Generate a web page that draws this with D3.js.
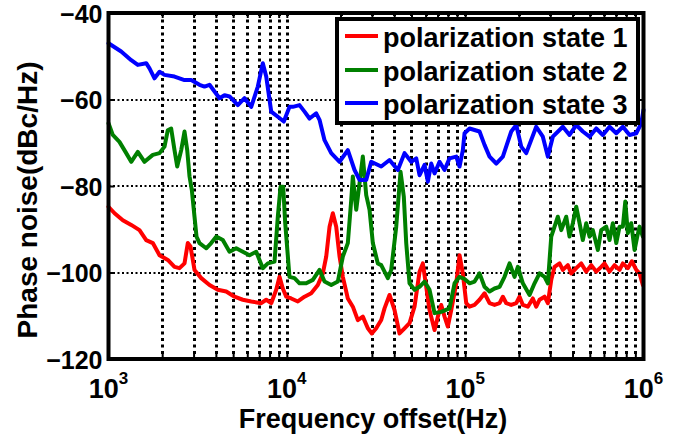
<!DOCTYPE html>
<html><head><meta charset="utf-8">
<script src="https://cdn.jsdelivr.net/npm/d3@7"></script>
<style>
body{margin:0;background:#fff}
text{font-family:"Liberation Sans",Arial,Helvetica,sans-serif;font-weight:bold;fill:#000}
</style>
</head><body>
<svg id="chart" width="692" height="434"></svg>
<script>
// ---- data ----
const seriesNames = ["polarization state 1", "polarization state 2", "polarization state 3"];
const seriesColors = ["#ff0000", "#008000", "#0000ff"];
const xTickValues = [1e3, 1e4, 1e5, 1e6];
const xTickExponents = ["3", "4", "5", "6"];
const yTickValues = [-120, -100, -80, -60, -40];
const xLabel = "Frequency offset(Hz)";
const yLabel = "Phase noise(dBc/Hz)";

const state1 = [[1000,-84.8],[1081,-86.3],[1203,-87.9],[1341,-89.0],[1492,-90.2],[1627,-92.5],[1772,-93.2],[1932,-96.0],[2151,-97.1],[2345,-98.7],[2501,-99.0],[2668,-97.9],[2784,-93.2],[2884,-94.0],[3036,-99.4],[3311,-101.3],[3685,-102.9],[4102,-104.0],[4573,-104.4],[5090,-105.6],[5665,-106.3],[6315,-106.7],[7183,-107.1],[7663,-106.3],[8175,-107.1],[8720,-104.0],[9100,-101.0],[9495,-103.7],[9922,-105.6],[10580,-106.0],[11530,-106.7],[12570,-105.6],[13700,-104.8],[14920,-102.9],[15920,-100.2],[16630,-96.3],[17360,-89.4],[18110,-86.3],[18920,-89.4],[19750,-96.3],[20610,-101.0],[21980,-106.0],[23450,-107.9],[25010,-111.0],[26680,-110.2],[28460,-112.9],[29970,-114.1],[31720,-112.9],[33830,-111.0],[35300,-108.3],[37650,-105.2],[40180,-108.7],[42850,-114.1],[45710,-112.9],[48750,-111.7],[52000,-107.9],[55490,-99.8],[57900,-97.9],[60480,-103.3],[63130,-108.7],[67350,-113.3],[70280,-110.2],[73420,-107.5],[76630,-110.2],[79950,-112.5],[83550,-108.7],[89130,-102.5],[93000,-96.0],[97030,-100.2],[101400,-107.1],[105800,-107.9],[112900,-107.5],[120400,-106.3],[128400,-104.8],[137000,-107.1],[146100,-107.5],[155900,-107.1],[162700,-105.6],[170000,-107.1],[181300,-107.5],[193400,-107.1],[201800,-105.6],[210600,-107.5],[224600,-107.9],[239600,-106.0],[250300,-107.9],[261200,-106.3],[278700,-105.6],[290800,-107.1],[303900,-101.7],[317100,-98.7],[338200,-97.9],[352900,-99.4],[376600,-98.3],[393400,-100.2],[419600,-99.0],[447600,-97.9],[477400,-99.8],[509300,-98.3],[543300,-99.8],[579400,-98.7],[604700,-97.9],[645100,-99.8],[688100,-98.3],[734100,-99.4],[766100,-97.9],[817100,-99.0],[860600,-97.4],[910900,-99.4],[950100,-100.2],[991600,-102.9]];

const state2 = [[1000,-65.5],[1057,-68.2],[1152,-69.8],[1257,-72.4],[1341,-74.4],[1460,-72.1],[1592,-74.4],[1772,-72.8],[1932,-72.4],[2061,-70.9],[2151,-67.1],[2246,-66.7],[2345,-71.7],[2428,-75.5],[2557,-71.7],[2668,-67.4],[2763,-71.7],[2847,-77.8],[2932,-80.9],[3036,-87.1],[3116,-91.7],[3238,-93.2],[3531,-94.4],[3766,-93.2],[4018,-91.7],[4375,-92.5],[4771,-95.2],[5202,-94.4],[5665,-95.2],[6176,-96.0],[6735,-95.2],[7333,-99.0],[7825,-97.9],[8530,-97.5],[8902,-87.1],[9218,-80.2],[9544,-80.2],[9793,-88.6],[10350,-101.0],[11040,-101.3],[11780,-102.5],[12840,-102.5],[13990,-101.7],[15250,-99.4],[16270,-102.1],[17740,-102.9],[19320,-102.1],[20610,-96.3],[21980,-93.2],[22970,-83.2],[23450,-77.8],[24500,-85.5],[25560,-79.4],[26680,-73.2],[27870,-82.1],[29090,-85.5],[30360,-93.2],[32380,-97.9],[33830,-98.3],[36840,-101.3],[38490,-99.4],[41060,-89.4],[43410,-76.7],[45290,-82.5],[46720,-93.2],[48750,-102.5],[52000,-104.0],[55490,-103.3],[59190,-102.1],[63130,-104.0],[67350,-109.4],[73420,-109.1],[81730,-108.3],[87180,-102.5],[93000,-101.0],[99200,-101.5],[105800,-102.5],[112900,-102.1],[120400,-100.2],[128400,-103.3],[137000,-104.4],[146100,-103.7],[155900,-103.3],[166200,-101.0],[177400,-97.9],[189200,-101.0],[197400,-98.7],[210600,-102.5],[229600,-105.2],[244900,-102.5],[261200,-100.2],[278700,-101.0],[290800,-102.5],[303900,-91.7],[317100,-89.4],[330900,-87.1],[345800,-90.2],[368800,-87.1],[384800,-91.7],[401600,-88.6],[419600,-84.8],[437900,-88.6],[456900,-92.5],[477400,-88.6],[498200,-91.7],[519900,-90.2],[554600,-94.8],[579400,-90.2],[618100,-89.4],[645100,-92.5],[673200,-88.6],[703600,-93.2],[734100,-89.4],[766100,-89.4],[790300,-83.6],[817100,-90.9],[853800,-88.6],[891000,-94.8],[922300,-91.7],[950100,-89.4],[991600,-91.7]];

const state3 = [[1000,-47.0],[1178,-48.9],[1341,-50.9],[1460,-52.0],[1627,-51.6],[1698,-52.8],[1811,-55.1],[1932,-53.6],[2061,-54.3],[2345,-54.7],[2668,-55.5],[2909,-55.5],[3238,-56.6],[3454,-57.0],[3685,-56.6],[4194,-59.7],[4473,-59.0],[4771,-59.3],[5311,-61.3],[5789,-59.7],[6315,-61.7],[6877,-57.0],[7333,-51.6],[7663,-54.7],[8175,-62.8],[8902,-64.0],[9618,-65.1],[10350,-61.7],[10800,-61.7],[11780,-61.3],[12570,-62.8],[13400,-64.4],[14610,-63.2],[15250,-64.7],[16270,-69.4],[17740,-72.4],[19750,-74.4],[21980,-71.7],[23970,-76.3],[25560,-78.6],[27870,-78.6],[29730,-74.4],[33830,-75.5],[37650,-74.0],[41920,-76.3],[45710,-72.4],[49830,-74.4],[53170,-73.6],[55490,-77.5],[59190,-75.1],[61770,-79.0],[64540,-74.8],[67350,-77.1],[71820,-74.4],[76630,-76.3],[81730,-73.6],[89130,-73.2],[93000,-75.5],[97030,-71.7],[99200,-67.8],[105800,-66.7],[120400,-67.4],[128400,-70.5],[137000,-73.2],[149400,-74.8],[162700,-73.2],[181300,-67.4],[193400,-65.9],[206300,-70.9],[220000,-72.4],[250300,-66.3],[272600,-68.6],[290800,-73.2],[310200,-68.6],[352900,-66.3],[384800,-68.2],[419600,-65.9],[456900,-67.4],[498200,-68.6],[543300,-66.7],[591600,-68.2],[645100,-66.3],[703600,-67.8],[766100,-66.3],[835300,-68.2],[910900,-67.8],[971400,-65.5],[1000000,-62.4]];

const seriesData = [state1, state2, state3];

// ---- layout ----
const svg = d3.select("#chart");
const L = 108.5, R = 643.5, T = 13, B = 359;
const x = d3.scaleLog().domain([1e3, 1e6]).range([L, R]);
const y = d3.scaleLinear().domain([-120, -40]).range([B, T]);

// all log ticks (majors + minors)
const logTicks = [];
for (let d = 1e3; d < 1e6; d *= 10) for (let k = 1; k < 10; k++) logTicks.push(d * k);
logTicks.push(1e6);

// grid: dotted
const grid = svg.append("g");
grid.selectAll("line.v").data(logTicks.filter(t => t > 1e3 && t < 1e6)).join("line")
  .attr("x1", d => Math.round(x(d)) + 0.5).attr("x2", d => Math.round(x(d)) + 0.5).attr("y1", T).attr("y2", B)
  .attr("stroke", "#000").attr("stroke-width", 3).attr("stroke-dasharray", "3,3.5");
grid.selectAll("line.h").data(yTickValues.filter(t => t > -120 && t < -40)).join("line")
  .attr("x1", L).attr("x2", R).attr("y1", d => Math.round(y(d))).attr("y2", d => Math.round(y(d)))
  .attr("stroke", "#000").attr("stroke-width", 2).attr("stroke-dasharray", "2,2.5");

// lines
const line = d3.line().x(d => x(d[0])).y(d => y(d[1]));
svg.append("g").selectAll("path").data(seriesData).join("path")
  .attr("d", d => line(d)).attr("fill", "none")
  .attr("stroke", (d, i) => seriesColors[i]).attr("stroke-width", 4)
  .attr("stroke-linejoin", "round").attr("stroke-linecap", "round");

// axes (inward ticks)
const yAxis = d3.axisLeft(y).tickValues(yTickValues).tickSizeInner(-6).tickSizeOuter(0).tickPadding(6).tickFormat(d3.format("d"));
const gy = svg.append("g").attr("transform", `translate(${L},0)`).call(yAxis);
gy.select(".domain").remove();
gy.selectAll(".tick line").attr("stroke-width", 2);
gy.selectAll(".tick text").style("font-size", "25px").attr("dy", "0.36em");
const gyR = svg.append("g").attr("transform", `translate(${R},0)`)
  .call(d3.axisRight(y).tickValues(yTickValues).tickSizeInner(-6).tickSizeOuter(0).tickFormat(""));
gyR.select(".domain").remove();
gyR.selectAll(".tick line").attr("stroke-width", 2);

const gx = svg.append("g").attr("transform", `translate(0,${B})`)
  .call(d3.axisBottom(x).tickValues(logTicks).tickSizeInner(-5).tickSizeOuter(0).tickFormat(""));
gx.select(".domain").remove();
gx.selectAll(".tick line").attr("stroke-width", 2);
const gxT = svg.append("g").attr("transform", `translate(0,${T})`)
  .call(d3.axisTop(x).tickValues(logTicks).tickSizeInner(-5).tickSizeOuter(0).tickFormat(""));
gxT.select(".domain").remove();
gxT.selectAll(".tick line").attr("stroke-width", 2);

// x tick labels 10^n
const xl = svg.append("g");
xTickValues.forEach((v, i) => {
  const t = xl.append("text").attr("x", x(v)).attr("y", 398).attr("text-anchor", "middle").style("font-size", "27px");
  t.append("tspan").text("10");
  t.append("tspan").attr("dy", -14).style("font-size", "17px").text(xTickExponents[i]);
});

// box
svg.append("rect").attr("x", L).attr("y", T).attr("width", R - L).attr("height", B - T)
  .attr("fill", "none").attr("stroke", "#000").attr("stroke-width", 4);

// axis titles
svg.append("text").attr("x", 373).attr("y", 428).attr("text-anchor", "middle").style("font-size", "27px").text(xLabel);
svg.append("text").attr("transform", "translate(37,200) rotate(-90)").attr("text-anchor", "middle").style("font-size", "28px").text(yLabel);

// legend
const lg = svg.append("g");
lg.append("rect").attr("x", 337).attr("y", 19).attr("width", 301).attr("height", 104)
  .attr("fill", "#fff").attr("stroke", "#000").attr("stroke-width", 4);
const rowY = [36, 70, 103];
seriesNames.forEach((n, i) => {
  lg.append("line").attr("x1", 345).attr("x2", 378).attr("y1", rowY[i]).attr("y2", rowY[i])
    .attr("stroke", seriesColors[i]).attr("stroke-width", 4);
  lg.append("text").attr("x", 383).attr("y", rowY[i] + 11).style("font-size", "27px").text(n);
});
</script>
</body></html>
